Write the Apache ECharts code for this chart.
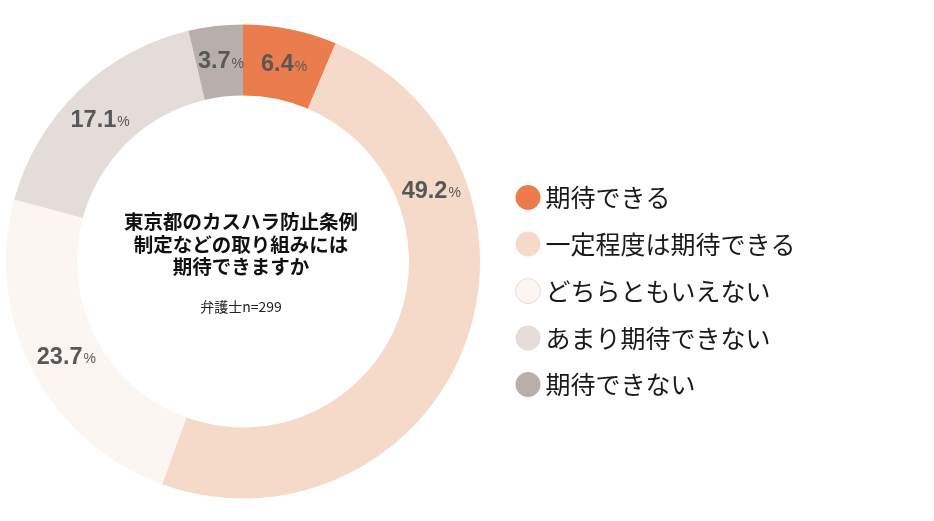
<!DOCTYPE html>
<html>
<head>
<meta charset="utf-8">
<script src="https://cdn.jsdelivr.net/npm/echarts@6/dist/echarts.min.js"></script>
<style>
html,body{margin:0;padding:0;background:#fff;}
#chart{width:934px;height:521px;}
</style>
</head>
<body>
<div id="chart"></div>
<script>
// ---- data ----
var categories = ['期待できる', '一定程度は期待できる', 'どちらともいえない', 'あまり期待できない', '期待できない'];
var values = [6.4, 49.2, 23.7, 17.1, 3.7];
var centerTitle = '東京都のカスハラ防止条例\n制定などの取り組みには\n期待できますか';
var centerSub = '弁護士n=299';

// ---- styles ----
var colors = ['#EA7C4D', '#F5DACA', '#FCF6F3', '#E3DCD9', '#B8AFAD'];
var CX = 243, CY = 261.5, R0 = 166, R1 = 237;
var labelAngles = [11.8, 69.5, 241.5, 314.7, -6.3]; // degrees clockwise from top
var labelR = 201;
var FONT_JP = '"Noto Sans CJK JP", "Noto Sans", sans-serif';
var FONT_NUM = '"Liberation Sans", Arial, sans-serif';

var chart = echarts.init(document.getElementById('chart'), null, {renderer: 'canvas'});

var pieData = categories.map(function (c, i) {
  return {name: c, value: values[i], itemStyle: {color: colors[i]}};
});

var legendData = categories.map(function (c, i) {
  var d = {name: c, icon: 'circle'};
  if (i === 2) d.itemStyle = {color: colors[i], borderColor: '#E9DCD5', borderWidth: 1};
  return d;
});

var option = {
  backgroundColor: '#ffffff',
  animation: false,
  color: colors,
  legend: {
    orient: 'vertical',
    left: 510,
    top: 180,
    itemWidth: 25,
    itemHeight: 25,
    itemGap: 21.5,
    icon: 'circle',
    data: legendData,
    textStyle: {
      fontFamily: FONT_JP,
      fontSize: 25,
      lineHeight: 25,
      color: '#1a1a1a'
    }
  },
  graphic: [
    {
      type: 'text',
      x: 241,
      y: 244.5,
      style: {
        text: centerTitle,
        align: 'center',
        verticalAlign: 'middle',
        fontFamily: FONT_JP,
        fontWeight: 'bold',
        fontSize: 19.5,
        lineHeight: 22.5,
        fill: '#111111'
      }
    },
    {
      type: 'text',
      x: 241,
      y: 307,
      style: {
        text: centerSub,
        align: 'center',
        verticalAlign: 'middle',
        fontFamily: FONT_JP,
        fontSize: 14,
        fill: '#222222'
      }
    }
  ],
  series: [{
    type: 'pie',
    center: [CX, CY],
    radius: [R0, R1],
    startAngle: 90,
    clockwise: true,
    avoidLabelOverlap: false,
    emphasis: {disabled: true},
    itemStyle: {borderWidth: 0},
    label: {
      show: true,
      position: 'inside',
      formatter: function (p) { return '{n|' + p.value.toFixed(1) + '}{p|%}'; },
      rich: {
        n: {fontFamily: FONT_NUM, fontWeight: 'bold', fontSize: 23.5, color: '#585858'},
        p: {fontFamily: FONT_NUM, fontWeight: 'normal', fontSize: 14, color: '#585858', padding: [4, 0, 0, 1]}
      }
    },
    labelLine: {show: false},
    labelLayout: function (params) {
      var a = labelAngles[params.dataIndex] * Math.PI / 180;
      return {
        x: CX + labelR * Math.sin(a),
        y: CY - labelR * Math.cos(a),
        align: 'center',
        verticalAlign: 'middle'
      };
    },
    data: pieData
  }]
};

chart.setOption(option);
</script>
</body>
</html>
